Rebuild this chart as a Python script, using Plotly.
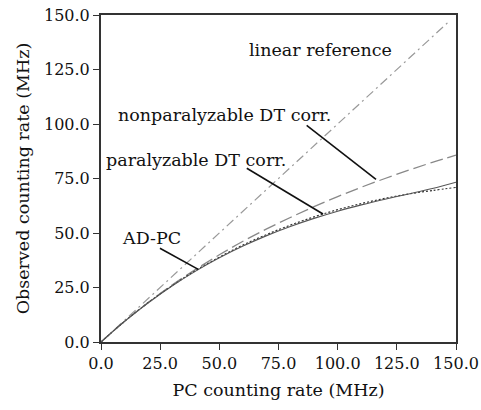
import plotly.graph_objects as go

# ---- data ----
pc_rate = [0, 10, 20, 30, 40, 50, 60, 70, 80, 90, 100, 110, 120, 130, 140, 150]
linear_ref_x = [0, 147]
linear_ref_y = [0, 147]
nonparalyzable = [0, 9.5, 18.2, 26.1, 33.3, 40.0, 46.2, 51.9, 57.1, 62.1, 66.7, 71.0, 75.0, 78.8, 82.4, 85.7]
paralyzable = [0, 9.5, 18.1, 25.8, 32.8, 38.9, 44.5, 49.3, 53.6, 57.4, 60.7, 63.5, 65.9, 67.9, 69.5, 70.9]
ad_pc = [0, 9.5, 18.0, 25.7, 32.5, 38.6, 44.0, 48.8, 53.0, 56.7, 60.0, 62.9, 65.5, 67.9, 70.4, 73.3]

tick_vals = [0, 25, 50, 75, 100, 125, 150]
tick_text = ["0.0", "25.0", "50.0", "75.0", "100.0", "125.0", "150.0"]

# label texts and positions (data coords)
label_text = ["linear reference", "nonparalyzable DT corr.", "paralyzable DT corr.", "AD-PC"]
label_x = [92.7, 52.0, 40.0, 21.4]
label_y = [133.9, 104.1, 83.5, 47.6]
# pointer lines: (x0, y0, x1, y1)
pointer_x0 = [86.9, 61.6, 24.9]
pointer_y0 = [99.4, 79.7, 43.0]
pointer_x1 = [116.2, 93.8, 41.1]
pointer_y1 = [74.6, 58.7, 33.3]

FONT = "DejaVu Serif"

fig = go.Figure()
fig.add_trace(go.Scatter(x=linear_ref_x, y=linear_ref_y, mode="lines",
                         line=dict(color="#999999", width=1.2, dash="9px,4px,2px,4px"),
                         name="linear reference"))
fig.add_trace(go.Scatter(x=pc_rate, y=nonparalyzable, mode="lines", line_shape="spline",
                         line=dict(color="#888888", width=1.3, dash="13px,5px"),
                         name="nonparalyzable DT corr."))
fig.add_trace(go.Scatter(x=pc_rate, y=paralyzable, mode="lines", line_shape="spline",
                         line=dict(color="#333333", width=1.2, dash="2px,2px"),
                         name="paralyzable DT corr."))
fig.add_trace(go.Scatter(x=pc_rate, y=ad_pc, mode="lines", line_shape="spline",
                         line=dict(color="#555555", width=1.1),
                         name="AD-PC"))

for t, x, y in zip(label_text, label_x, label_y):
    fig.add_annotation(x=x, y=y, xref="x", yref="y", text=t, showarrow=False,
                       font=dict(family=FONT, size=17.5, color="#111111"))

for x0, y0, x1, y1 in zip(pointer_x0, pointer_y0, pointer_x1, pointer_y1):
    fig.add_shape(type="line", xref="x", yref="y", x0=x0, y0=y0, x1=x1, y1=y1,
                  line=dict(color="#111111", width=1.6))

axis_common = dict(
    range=[0, 150], tickmode="array", tickvals=tick_vals, ticktext=tick_text,
    showgrid=False, zeroline=False, showline=True, linecolor="#333333", linewidth=2,
    mirror=True, ticks="outside", ticklen=6, tickwidth=1, tickcolor="#333333",
    tickfont=dict(family=FONT, size=16, color="#111111"), automargin=False,
)

fig.update_layout(
    template="none",
    width=481, height=410,
    margin=dict(l=101, r=25, t=15, b=68),
    paper_bgcolor="white", plot_bgcolor="white",
    showlegend=False,
    xaxis=dict(**axis_common,
               title=dict(text="PC counting rate (MHz)", standoff=12,
                          font=dict(family=FONT, size=17.5, color="#111111"))),
    yaxis=dict(**axis_common,
               title=dict(text="Observed counting rate (MHz)", standoff=10,
                          font=dict(family=FONT, size=17.5, color="#111111"))),
)

fig.write_html("out.html")
